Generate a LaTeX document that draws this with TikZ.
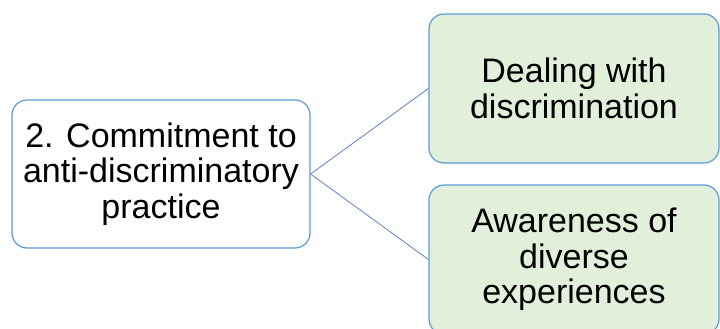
\documentclass[tikz,border=0pt]{standalone}
\usepackage{fontspec}
\setmainfont{Liberation Sans}
\definecolor{boxline}{HTML}{5B9BD5}
\definecolor{boxfill}{HTML}{E2EFDA}
\definecolor{conn}{HTML}{6F8AC6}
\begin{document}
\begin{tikzpicture}[x=1pt,y=-1pt,
  box/.style={draw=boxline, line width=1.2pt, rounded corners=15pt, align=center,
    font=\fontsize{34}{35.5}\selectfont, inner sep=0pt, text=black},
  leftbox/.style={box, fill=white, minimum width=298pt, minimum height=148pt},
  rightbox/.style={box, fill=boxfill, minimum width=290pt, minimum height=149pt},
  conn/.style={draw=conn, line width=0.9pt}]
\useasboundingbox (0,0) rectangle (720,329);
\clip (0,0) rectangle (720,329);
\node[leftbox] (root) at (161,174) {2. Commitment to\\anti-discriminatory\\practice};
\node[rightbox] (a) at (574,88.5) {Dealing with\\discrimination};
\node[rightbox] (b) at (574,259.5) {Awareness of\\diverse\\experiences};
\draw[conn] (root.east) -- (a.west);
\draw[conn] (root.east) -- (b.west);
\end{tikzpicture}
\end{document}
